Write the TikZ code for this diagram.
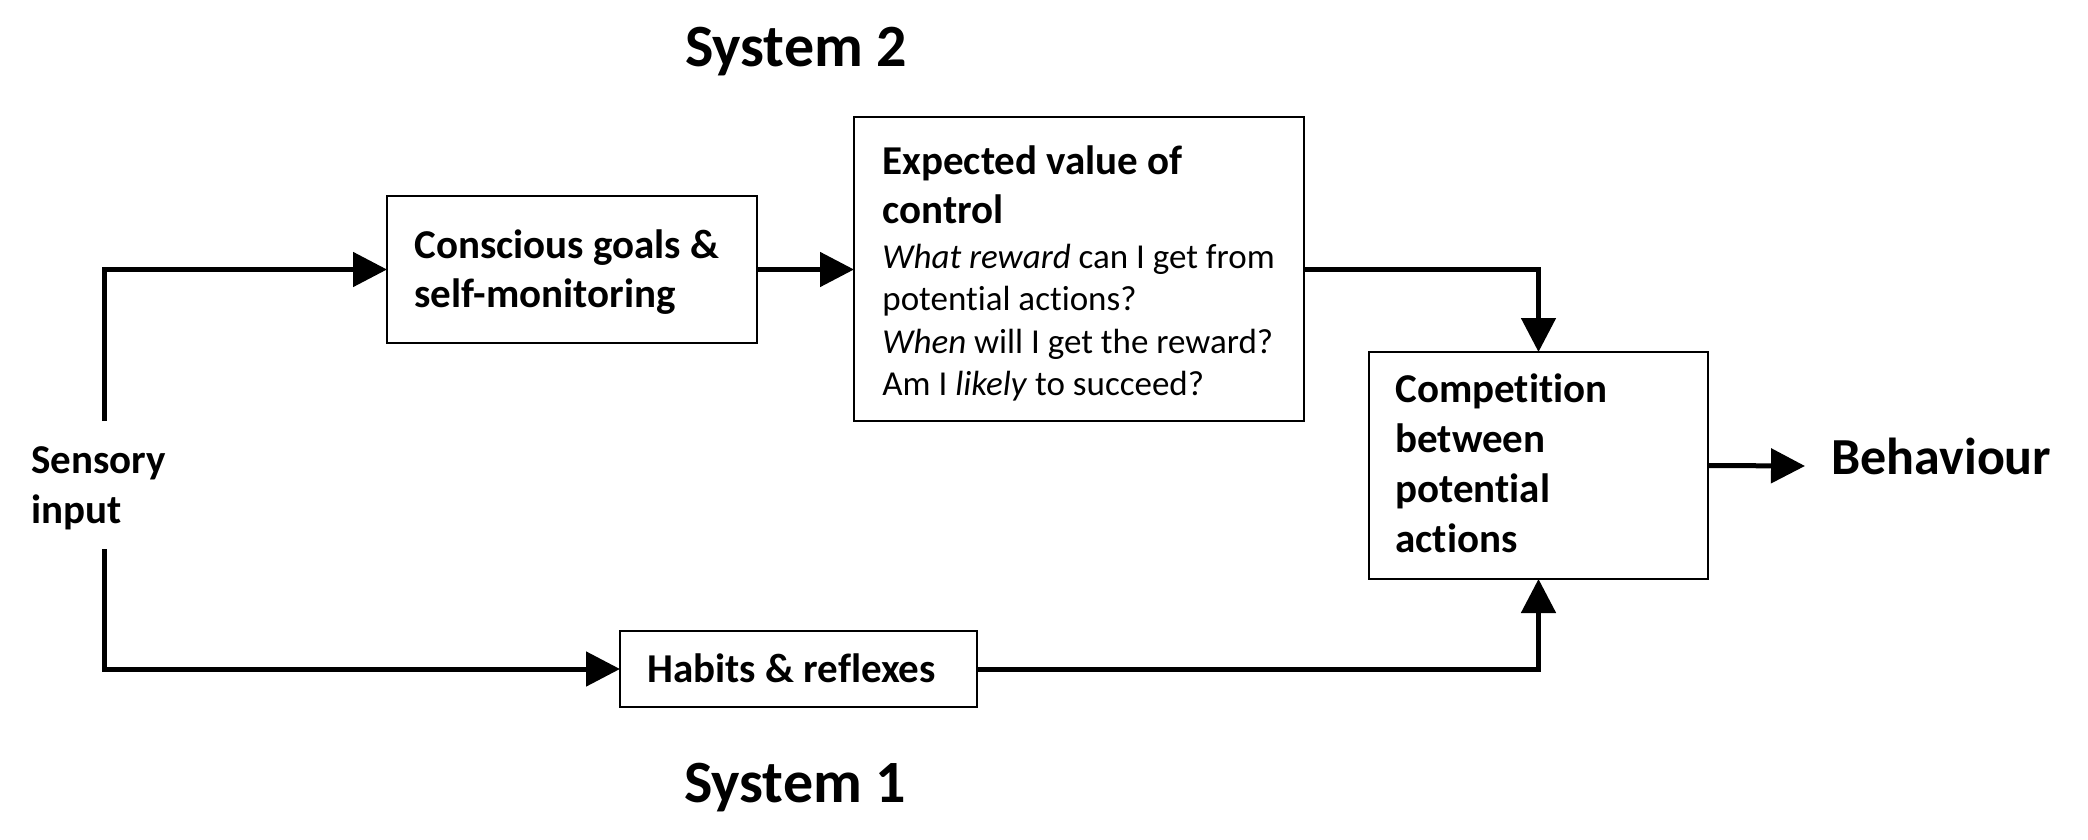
\documentclass[tikz,border=0pt]{standalone}
\usepackage{fontspec}
\setmainfont{Carlito}[Ligatures=NoCommon]
\usetikzlibrary{arrows.meta}
\begin{document}
\begin{tikzpicture}[x=0.5pt,y=-0.5pt,
  box/.style={draw, line width=1.3pt, inner sep=0pt, outer sep=0pt, anchor=north west},
  conn/.style={line width=2.5pt, -{Triangle[length=17pt,width=17pt]}},
  bt/.style={font=\fontsize{20.5}{24.6}\selectfont\bfseries, anchor=base west, inner sep=0pt},
  rt/.style={font=\fontsize{17.5}{21}\selectfont, anchor=base west, inner sep=0pt},
  title/.style={font=\fontsize{30}{36}\selectfont\bfseries, anchor=base, inner sep=0pt}]
\useasboundingbox (0,0) rectangle (2088,840);

% titles
\node[title] (sys2) at (796,67) {System 2};
\node[title] (sys1) at (795,802) {System 1};

% boxes
\node[box, minimum width=185pt, minimum height=73.5pt] (cg) at (387,196) {};
\node[box, minimum width=225pt, minimum height=152pt] (ev) at (854,117) {};
\node[box, minimum width=169.5pt, minimum height=113.5pt] (comp) at (1369,352) {};
\node[box, minimum width=178.5pt, minimum height=38pt] (hab) at (620,631) {};

% box texts
\node[bt] (cg1) at (414,258) {Conscious goals \&};
\node[bt] (cg2) at (414,307) {self-monitoring};

\node[bt] (ev1) at (882,174) {Expected value of};
\node[bt] (ev2) at (882,223) {control};
\node[rt] (ev3) at (882,268) {\textit{What reward} can I get from};
\node[rt] (ev4) at (882,310) {potential actions?};
\node[rt] (ev5) at (882,353) {\textit{When} will I get the reward?};
\node[rt] (ev6) at (882,395) {Am I \textit{likely} to succeed?};

\node[bt] (cp1) at (1395,402) {Competition};
\node[bt] (cp2) at (1395,452) {between};
\node[bt] (cp3) at (1395,502) {potential};
\node[bt] (cp4) at (1395,552) {actions};

\node[bt] (hb1) at (647,682) {Habits \& reflexes};

\node[bt] (si1) at (31,473) {Sensory};
\node[bt] (si2) at (31,523) {input};

\node[bt, font=\fontsize{26}{31}\selectfont\bfseries] (beht) at (1831,474) {Behaviour};

% connectors
\coordinate (sTop) at (104.5,421);
\coordinate (sBot) at (104.5,549);
\coordinate (beh) at (1805,466);
\draw[conn] (sTop) |- (cg.west);
\draw[conn] (cg.east) -- (cg.east -| ev.west);
\draw[conn] (ev.east) -| (comp.north);
\draw[conn] (sBot) |- (hab.west);
\draw[conn] (hab.east) -| (comp.south);
\draw[conn] (comp.east) -- (beh);
\end{tikzpicture}
\end{document}
